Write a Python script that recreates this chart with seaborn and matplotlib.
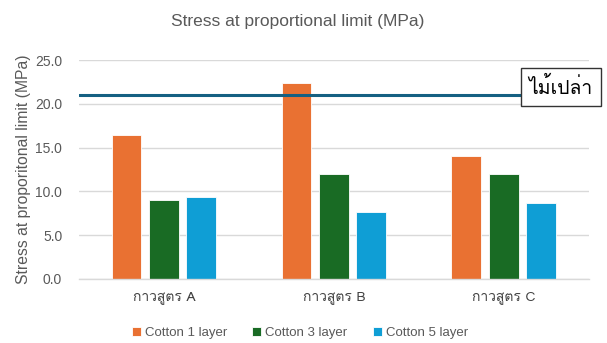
import matplotlib
matplotlib.use("Agg")
import matplotlib.pyplot as plt
from matplotlib import font_manager
import seaborn as sns
import pandas as pd

# ---- data ----
formulas = ["กาวสูตร A", "กาวสูตร B", "กาวสูตร C"]
layers = ["Cotton 1 layer", "Cotton 3 layer", "Cotton 5 layer"]
cotton_1 = [16.4, 22.4, 14.0]
cotton_3 = [9.0, 12.0, 12.0]
cotton_5 = [9.4, 7.6, 8.7]
bare_wood_value = 21.0
bare_wood_label = "ไม้เปล่า"
y_ticks = [0.0, 5.0, 10.0, 15.0, 20.0, 25.0]

colors = ["#E97132", "#196B24", "#0F9ED5"]
line_color = "#156082"
text_grey = "#595959"


def find_thai_family():
    """Return the name of an installed font family that covers Thai."""
    try:
        from fontTools.ttLib import TTFont
    except Exception:
        return None
    for f in font_manager.fontManager.ttflist:
        try:
            tt = TTFont(f.fname, fontNumber=0, lazy=True)
            cmap = tt.getBestCmap() or {}
            if 0x0E01 in cmap and 0x0E32 in cmap and 0x0E49 in cmap:
                return f.name
        except Exception:
            continue
    return None


sns.set_theme(style="white")
thai = find_thai_family()
families = ["Liberation Sans", "DejaVu Sans"]
if thai:
    families = ["Liberation Sans", thai, "DejaVu Sans"]
plt.rcParams["font.family"] = families
thai_families = [thai, "DejaVu Sans"] if thai else ["DejaVu Sans"]

df = pd.DataFrame({
    "formula": formulas * 3,
    "layer": [layers[0]] * 3 + [layers[1]] * 3 + [layers[2]] * 3,
    "value": cotton_1 + cotton_3 + cotton_5,
})

fig = plt.figure(figsize=(6.07, 3.43), dpi=100)
ax = fig.add_axes([0.130, 0.187, 0.840, 0.638])

sns.barplot(data=df, x="formula", y="value", hue="layer", hue_order=layers,
            palette=colors, width=0.66, gap=0.2, ax=ax,
            edgecolor="white", linewidth=0.6, errorbar=None, saturation=1)

# reference line for the untreated wood, labelled at the right edge
ax.axhline(bare_wood_value, color=line_color, lw=2.2, zorder=3)
ax.text(0.924, 0.746, bare_wood_label,
        transform=fig.transFigure, ha="center", va="center", fontsize=14,
        family=thai_families, color="black", zorder=5,
        bbox=dict(boxstyle="square,pad=0.42", fc="white", ec="#333333", lw=1.0))

ax.set_ylim(0, 25)
ax.set_yticks(y_ticks)
ax.set_yticklabels([f"{t:.1f}" for t in y_ticks])
ax.set_xlim(-0.5, 2.5)
ax.yaxis.grid(True, color="#D9D9D9", lw=1.0)
ax.set_axisbelow(True)
for s in ["top", "right", "left"]:
    ax.spines[s].set_visible(False)
ax.spines["bottom"].set_color("#D9D9D9")
ax.spines["bottom"].set_linewidth(1.0)
ax.tick_params(axis="both", length=0, colors=text_grey, labelsize=10)
ax.tick_params(axis="y", pad=12)
ax.tick_params(axis="x", pad=9)
for lab in ax.get_xticklabels():
    lab.set_family(thai_families)
    lab.set_fontsize(10)
    lab.set_color("#404040")
ax.set_xlabel("")
ax.set_ylabel("Stress at proporitonal limit (MPa)", fontsize=11.3, color=text_grey,
              labelpad=3)

fig.suptitle("Stress at proportional limit (MPa)", x=0.491, y=0.936,
             fontsize=12.5, color=text_grey, va="center")

handles, labels = ax.get_legend_handles_labels()
ax.legend(handles, labels, loc="center", bbox_to_anchor=(0.494, 0.029),
          bbox_transform=fig.transFigure, ncol=3, frameon=False,
          fontsize=9.5, labelcolor=text_grey, handlelength=0.7, handleheight=0.7,
          handletextpad=0.3, columnspacing=1.9, borderpad=0)

fig.savefig("out.png", dpi=100)
